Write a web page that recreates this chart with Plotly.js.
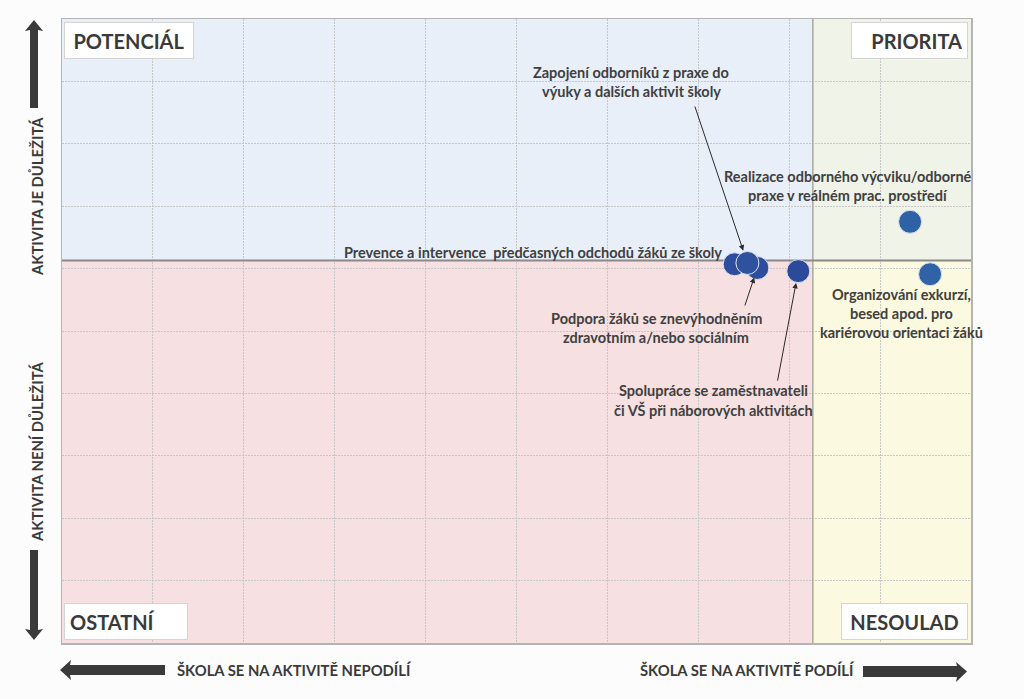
<!DOCTYPE html>
<html>
<head>
<meta charset="utf-8">
<script src="https://cdn.plot.ly/plotly-3.0.1.min.js"></script>
<style>
  html, body { margin: 0; padding: 0; background: #fcfcfc; }
  #chart { width: 1024px; height: 699px; }
</style>
</head>
<body>
<div id="chart"></div>
<script>
// ---- data ----
var activityNames = [
  "Prevence a intervence předčasných odchodů žáků ze školy",
  "Podpora žáků se znevýhodněním zdravotním a/nebo sociálním",
  "Zapojení odborníků z praxe do výuky a dalších aktivit školy",
  "Spolupráce se zaměstnavateli či VŠ při náborových aktivitách",
  "Realizace odborného výcviku/odborné praxe v reálném prac. prostředí",
  "Organizování exkurzí, besed apod. pro kariérovou orientaci žáků"
];
var participation = [7.40, 7.65, 7.54, 8.10, 9.33, 9.55];   // x: škola se na aktivitě podílí
var importance    = [6.07, 6.01, 6.09, 5.96, 6.75, 5.91];   // y: aktivita je důležitá
var labelLines = [
  ["Prevence a intervence  předčasných odchodů žáků ze školy"],
  ["Podpora žáků se znevýhodněním", "zdravotním a/nebo sociálním"],
  ["Zapojení odborníků z praxe do", "výuky a dalších aktivit školy"],
  ["Spolupráce se zaměstnavateli", "či VŠ při náborových aktivitách"],
  ["Realizace odborného výcviku/odborné", "praxe v reálném prac. prostředí"],
  ["Organizování exkurzí,", "besed apod. pro", "kariérovou orientaci žáků"]
];
var participationThreshold = 8.26;
var importanceThreshold = 6.13;
var axisMin = 0, axisMax = 10;
var quadrantNames = ["POTENCIÁL", "PRIORITA", "OSTATNÍ", "NESOULAD"];
var axisTexts = ["AKTIVITA JE DŮLEŽITÁ", "AKTIVITA NENÍ DŮLEŽITÁ",
                 "ŠKOLA SE NA AKTIVITĚ NEPODÍLÍ", "ŠKOLA SE NA AKTIVITĚ PODÍLÍ"];

// ---- styling / layout ----
var FONT = "Lato, 'Open Sans', sans-serif";
var TXT = "#404040";
var markerColors = ["#2E4E9D", "#2E4E9D", "#2F529F", "#2C4A9A", "#2F62A5", "#3063A4"];
var drawOrder = [0, 1, 2, 3, 4, 5];

// label placement: [xanchor, xshift, yshift(center of block)] relative to the point
var labelPos = [
  ["right", -11, 12],
  ["center", -101, -60],
  ["center", -116, 181],
  ["center", -85, -129],
  ["center", -62, 36],
  ["center", -29, -39]
];
// arrows: [ax, ay, standoff], null = none
var arrowPos = [null, [-13, 39, 10], [-53, -158, 13], [-21, 111, 12], null, null];

var LINE_H = 19;

var annotations = [];
for (var i = 0; i < activityNames.length; i++) {
  var lines = labelLines[i];
  var p = labelPos[i];
  var n = lines.length;
  for (var k = 0; k < n; k++) {
    var off = ((n - 1) / 2 - k) * LINE_H;
    annotations.push({
      x: participation[i], y: importance[i], xref: "x", yref: "y",
      text: lines[k], showarrow: false,
      xanchor: p[0], yanchor: "middle",
      xshift: p[1], yshift: p[2] + off,
      font: {family: FONT, size: 14.5, color: TXT, weight: "bold"}
    });
  }
  if (arrowPos[i]) {
    var a = arrowPos[i];
    annotations.push({
      x: participation[i], y: importance[i], xref: "x", yref: "y",
      text: "", showarrow: true, ax: a[0], ay: a[1],
      arrowhead: 2, arrowsize: 1.1, arrowwidth: 1, arrowcolor: "#2a2a2a",
      standoff: a[2]
    });
  }
}

// quadrant name boxes
var boxFont = {family: FONT, size: 20, color: "#3a3a3a", weight: "bold"};
var boxes = [
  {x: 0, y: 1, xanchor: "left", yanchor: "top", xshift: 2, yshift: -3, align: "center", w: 118},
  {x: 1, y: 1, xanchor: "right", yanchor: "top", xshift: -3, yshift: -3, align: "right", w: 105},
  {x: 0, y: 0, xanchor: "left", yanchor: "bottom", xshift: 2, yshift: 3, align: "left", w: 112},
  {x: 1, y: 0, xanchor: "right", yanchor: "bottom", xshift: -3, yshift: 3, align: "center", w: 115}
];
for (var b = 0; b < 4; b++) {
  var bx = boxes[b];
  annotations.push({
    xref: "paper", yref: "paper", x: bx.x, y: bx.y, xanchor: bx.xanchor, yanchor: bx.yanchor,
    xshift: bx.xshift, yshift: bx.yshift, text: quadrantNames[b], showarrow: false,
    bgcolor: "#ffffff", bordercolor: "#d4d4d4", borderwidth: 1, borderpad: 5,
    width: bx.w, height: 25, align: bx.align, valign: "middle",
    font: boxFont
  });
}

// axis direction texts (plot area: left 62, top 19, width 909, height 624)
function px2x(px) { return (px - 62) / 909; }
function px2y(py) { return (643 - py) / 624; }
var dirFont = {family: FONT, size: 14.8, color: "#3a3a3a", weight: "bold"};
annotations.push({xref: "paper", yref: "paper", x: px2x(37), y: px2y(197), text: axisTexts[0],
  textangle: -90, showarrow: false, font: dirFont, xanchor: "center", yanchor: "middle"});
annotations.push({xref: "paper", yref: "paper", x: px2x(37), y: px2y(452), text: axisTexts[1],
  textangle: -90, showarrow: false, font: dirFont, xanchor: "center", yanchor: "middle"});
annotations.push({xref: "paper", yref: "paper", x: px2x(175), y: px2y(670), text: axisTexts[2],
  showarrow: false, font: dirFont, xanchor: "left", yanchor: "middle"});
annotations.push({xref: "paper", yref: "paper", x: px2x(857), y: px2y(670), text: axisTexts[3],
  showarrow: false, font: dirFont, xanchor: "right", yanchor: "middle"});

function poly(pts) {
  var s = "";
  for (var j = 0; j < pts.length; j++) {
    s += (j === 0 ? "M" : "L") + px2x(pts[j][0]).toFixed(5) + "," + px2y(pts[j][1]).toFixed(5) + " ";
  }
  return s + "Z";
}
var arrowFill = "#3a3a3a";
var shapes = [
  // quadrants
  {type: "rect", xref: "x", yref: "y", layer: "below", line: {width: 0},
   x0: axisMin, x1: participationThreshold, y0: importanceThreshold, y1: axisMax, fillcolor: "#E9EFF8"},
  {type: "rect", xref: "x", yref: "y", layer: "below", line: {width: 0},
   x0: participationThreshold, x1: axisMax, y0: importanceThreshold, y1: axisMax, fillcolor: "#EFF3E8"},
  {type: "rect", xref: "x", yref: "y", layer: "below", line: {width: 0},
   x0: axisMin, x1: participationThreshold, y0: axisMin, y1: importanceThreshold, fillcolor: "#F6E0E1"},
  {type: "rect", xref: "x", yref: "y", layer: "below", line: {width: 0},
   x0: participationThreshold, x1: axisMax, y0: axisMin, y1: importanceThreshold, fillcolor: "#FBFAE0"},
  // dividers
  {type: "line", xref: "x", yref: "y", layer: "between", x0: participationThreshold, x1: participationThreshold,
   y0: axisMin, y1: axisMax, line: {color: "#a9a9a0", width: 1.5}},
  {type: "line", xref: "x", yref: "y", layer: "between", x0: axisMin, x1: axisMax,
   y0: importanceThreshold, y1: importanceThreshold, line: {color: "#8c8888", width: 2}},
  // direction arrows
  {type: "path", xref: "paper", yref: "paper", fillcolor: arrowFill, line: {width: 0},
   path: poly([[30, 108], [30, 30], [25, 31], [34, 20], [43, 31], [38, 30], [38, 108]])},
  {type: "path", xref: "paper", yref: "paper", fillcolor: arrowFill, line: {width: 0},
   path: poly([[30, 550], [30, 630], [25, 629], [34, 640], [43, 629], [38, 630], [38, 550]])},
  {type: "path", xref: "paper", yref: "paper", fillcolor: arrowFill, line: {width: 0},
   path: poly([[165, 665], [70, 665], [71, 660], [60, 670], [71, 680], [70, 675], [165, 675]])},
  {type: "path", xref: "paper", yref: "paper", fillcolor: arrowFill, line: {width: 0},
   path: poly([[863, 666], [957, 666], [956, 662], [967, 671.5], [956, 682], [957, 677], [863, 677]])}
];

var trace = {
  type: "scatter", mode: "markers",
  x: drawOrder.map(function (i) { return participation[i]; }),
  y: drawOrder.map(function (i) { return importance[i]; }),
  text: drawOrder.map(function (i) { return activityNames[i]; }),
  hoverinfo: "text",
  marker: {size: 23, color: drawOrder.map(function (i) { return markerColors[i]; }),
           line: {color: "#dde4f2", width: 1}},
  cliponaxis: false
};

var axisCommon = {
  range: [axisMin, axisMax], dtick: 1, tick0: 0, showticklabels: false, ticks: "",
  showgrid: true, gridcolor: "#c6c6c6", griddash: "2px,1px", gridwidth: 1,
  zeroline: false, showline: true, linecolor: "#b4b4b4", linewidth: 1.5, mirror: true,
  fixedrange: true
};

var layout = {
  width: 1024, height: 699,
  margin: {l: 62, r: 53, t: 19, b: 56},
  paper_bgcolor: "#fcfcfc", plot_bgcolor: "#fcfcfc",
  showlegend: false,
  xaxis: Object.assign({}, axisCommon),
  yaxis: Object.assign({}, axisCommon),
  shapes: shapes,
  annotations: annotations,
  font: {family: FONT}
};

Plotly.newPlot("chart", [trace], layout, {displayModeBar: false, staticPlot: true});
</script>
</body>
</html>
